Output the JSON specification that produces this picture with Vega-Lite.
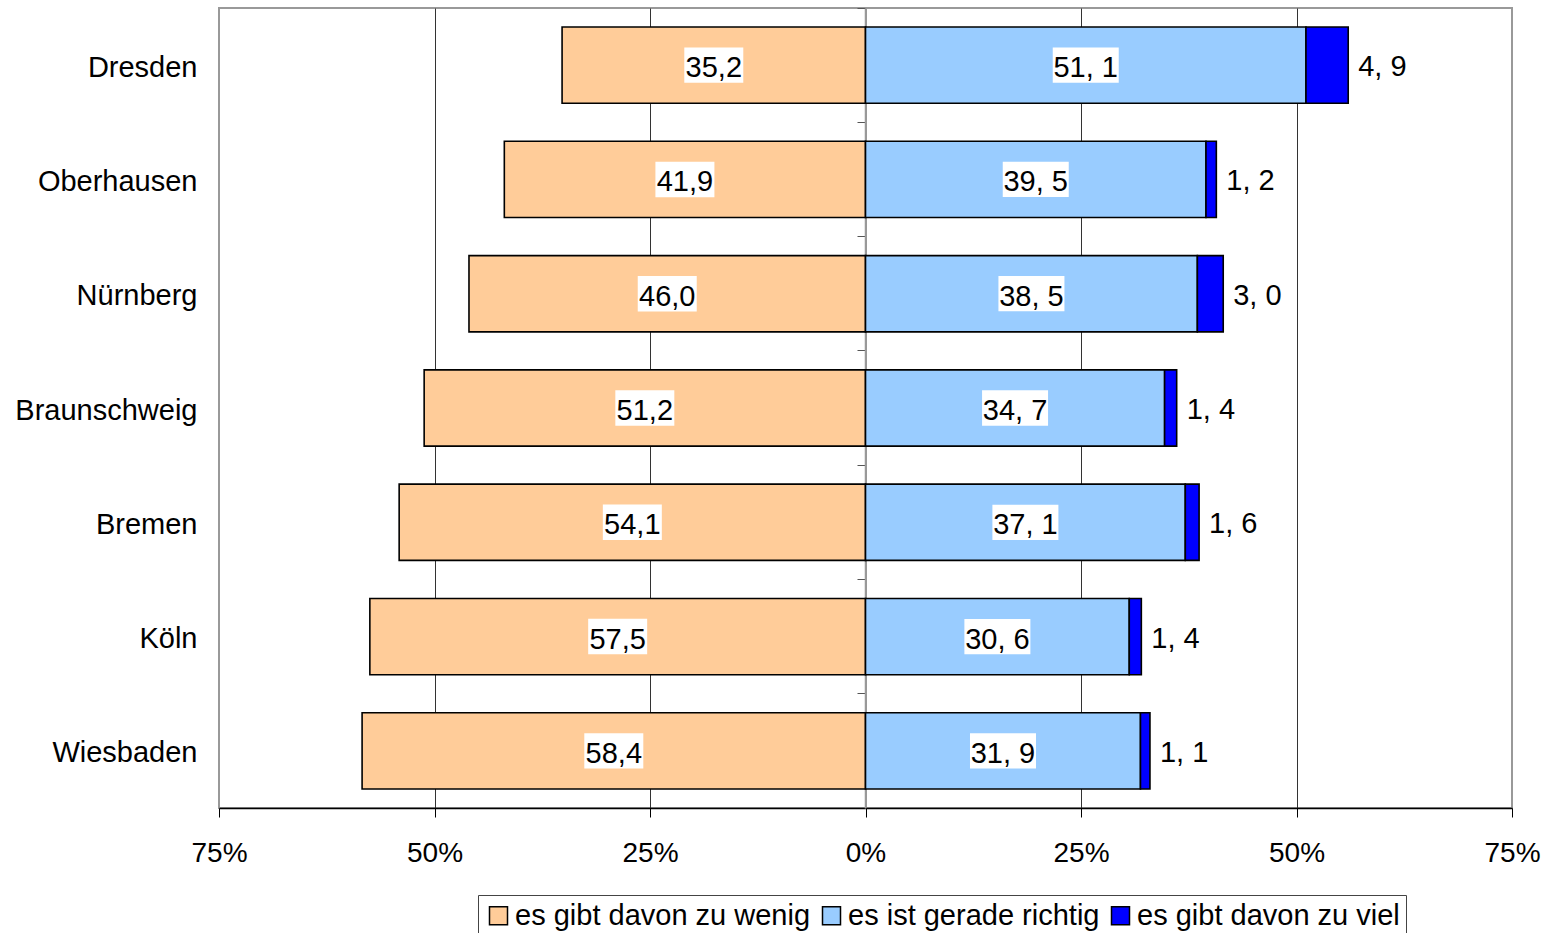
{
  "$schema": "https://vega.github.io/schema/vega-lite/v6.json",
  "width": 1293,
  "height": 800,
  "autosize": {"type": "none"},
  "padding": {"left": 219, "top": 8, "right": 43, "bottom": 125},
  "background": "white",
  "config": {
    "font": "Liberation Sans",
    "view": {"stroke": "#999999", "strokeWidth": 2},
    "axis": {"labelFont": "Liberation Sans", "labelColor": "black"}
  },
  "data": {
    "values": [
      {"city": "Dresden", "cat": "es gibt davon zu wenig", "value": 35.2},
      {"city": "Dresden", "cat": "es ist gerade richtig", "value": 51.1},
      {"city": "Dresden", "cat": "es gibt davon zu viel", "value": 4.9},
      {"city": "Oberhausen", "cat": "es gibt davon zu wenig", "value": 41.9},
      {"city": "Oberhausen", "cat": "es ist gerade richtig", "value": 39.5},
      {"city": "Oberhausen", "cat": "es gibt davon zu viel", "value": 1.2},
      {"city": "Nürnberg", "cat": "es gibt davon zu wenig", "value": 46.0},
      {"city": "Nürnberg", "cat": "es ist gerade richtig", "value": 38.5},
      {"city": "Nürnberg", "cat": "es gibt davon zu viel", "value": 3.0},
      {"city": "Braunschweig", "cat": "es gibt davon zu wenig", "value": 51.2},
      {"city": "Braunschweig", "cat": "es ist gerade richtig", "value": 34.7},
      {"city": "Braunschweig", "cat": "es gibt davon zu viel", "value": 1.4},
      {"city": "Bremen", "cat": "es gibt davon zu wenig", "value": 54.1},
      {"city": "Bremen", "cat": "es ist gerade richtig", "value": 37.1},
      {"city": "Bremen", "cat": "es gibt davon zu viel", "value": 1.6},
      {"city": "Köln", "cat": "es gibt davon zu wenig", "value": 57.5},
      {"city": "Köln", "cat": "es ist gerade richtig", "value": 30.6},
      {"city": "Köln", "cat": "es gibt davon zu viel", "value": 1.4},
      {"city": "Wiesbaden", "cat": "es gibt davon zu wenig", "value": 58.4},
      {"city": "Wiesbaden", "cat": "es ist gerade richtig", "value": 31.9},
      {"city": "Wiesbaden", "cat": "es gibt davon zu viel", "value": 1.1}
    ]
  },
  "transform": [
    {"calculate": "datum.cat === 'es gibt davon zu wenig' ? -datum.value : datum.value", "as": "sv"},
    {"stack": "sv", "groupby": ["city"], "sort": [{"field": "cat", "order": "descending"}], "as": ["x0", "x1"], "offset": "zero"},
    {"calculate": "(datum.x0 + datum.x1) / 2", "as": "mid"},
    {"calculate": "datum.cat === 'es gibt davon zu wenig' ? replace(format(datum.value, '.1f'), '.', ',') : replace(format(datum.value, '.1f'), '.', ', ')", "as": "lbl"}
  ],
  "resolve": {"axis": {"y": "independent"}},
  "layer": [
    {
      "mark": {"type": "bar", "stroke": "black", "strokeWidth": 1.6, "height": {"band": 0.667}},
      "encoding": {
        "y": {
          "field": "city", "type": "nominal", "sort": null,
          "scale": {"paddingInner": 0, "paddingOuter": 0},
          "axis": {"title": null, "ticks": false, "domain": false, "labelFontSize": 29, "labelPadding": 22, "labelOffset": 2.5, "labelLimit": 0, "grid": false}
        },
        "x": {
          "field": "x0", "type": "quantitative",
          "scale": {"domain": [-75, 75], "nice": false, "zero": false},
          "axis": {
            "title": null,
            "values": [-75, -50, -25, 0, 25, 50, 75],
            "labelExpr": "abs(datum.value) + '%'",
            "labelFontSize": 28,
            "labelPadding": 22,
            "labelFlush": false,
            "tickSize": 9,
            "tickColor": "black",
            "domainColor": "black",
            "domainWidth": 1.5,
            "grid": true,
            "gridColor": {"condition": {"test": "datum.value === 0 || abs(datum.value) === 75", "value": "#999999"}, "value": "#333333"},
            "gridOpacity": 1,
            "gridWidth": 1
          }
        },
        "x2": {"field": "x1"},
        "color": {
          "field": "cat", "type": "nominal",
          "scale": {
            "domain": ["es gibt davon zu wenig", "es ist gerade richtig", "es gibt davon zu viel"],
            "range": ["#FFCC99", "#99CCFF", "#0000FF"]
          },
          "legend": {
            "title": null,
            "orient": "none",
            "legendX": 259,
            "legendY": 887,
            "direction": "horizontal",
            "symbolType": "square",
            "symbolSize": 324,
            "symbolStrokeColor": "black",
            "symbolStrokeWidth": 1.5,
            "labelFontSize": 29,
            "labelFont": "Liberation Sans",
            "labelColor": "black",
            "labelLimit": 0,
            "labelOffset": 2,
            "columnPadding": 6,
            "strokeColor": "#444444",
            "fillColor": "white",
            "padding": 6
          }
        }
      }
    },
    {
      "transform": [{"filter": "datum.cat !== 'es gibt davon zu viel'"}],
      "mark": {"type": "point", "filled": true, "fill": "white", "opacity": 1, "strokeWidth": 0},
      "encoding": {
        "y": {"field": "city", "type": "nominal", "sort": null, "axis": null},
        "x": {"field": "mid", "type": "quantitative"},
        "shape": {
          "condition": {"test": "datum.cat === 'es gibt davon zu wenig'", "value": "M-1,-0.6H1V0.6H-1Z"},
          "value": "M-1,-0.535H1V0.535H-1Z"
        },
        "size": {
          "condition": {"test": "datum.cat === 'es gibt davon zu wenig'", "value": 3481},
          "value": 4356
        }
      }
    },
    {
      "transform": [{"filter": "datum.cat !== 'es gibt davon zu viel'"}],
      "mark": {"type": "text", "fontSize": 29, "font": "Liberation Sans", "color": "black", "baseline": "middle", "align": "center", "dy": 3},
      "encoding": {
        "y": {"field": "city", "type": "nominal", "sort": null, "axis": null},
        "x": {"field": "mid", "type": "quantitative"},
        "text": {"field": "lbl"}
      }
    },
    {
      "transform": [{"filter": "datum.cat === 'es gibt davon zu viel'"}],
      "mark": {"type": "text", "fontSize": 29, "font": "Liberation Sans", "color": "black", "baseline": "middle", "align": "left", "dx": 10, "dy": 2},
      "encoding": {
        "y": {
          "field": "city", "type": "nominal", "sort": null,
          "axis": {"title": null, "orient": "left", "offset": -646, "labels": false, "ticks": true, "tickSize": 8, "bandPosition": 0, "tickColor": "#555555", "domainColor": "#999999", "domainWidth": 1.5, "grid": false}
        },
        "x": {"field": "x1", "type": "quantitative"},
        "text": {"field": "lbl"}
      }
    }
  ]
}
